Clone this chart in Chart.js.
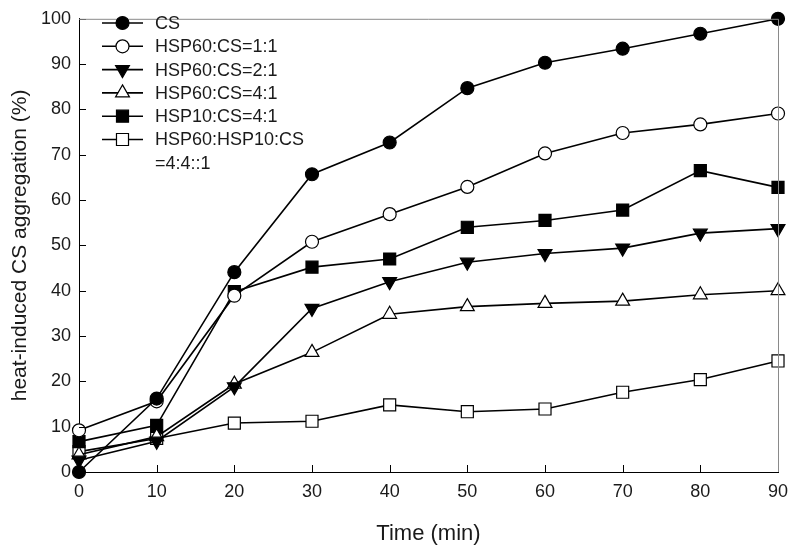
<!DOCTYPE html>
<html>
<head>
<meta charset="utf-8">
<script src="https://cdn.jsdelivr.net/npm/chart.js@4.4.1/dist/chart.umd.min.js"></script>
<style>
  html, body { margin: 0; padding: 0; background: #fff; }
  #wrap { width: 788px; height: 547px; }
</style>
</head>
<body>
<div id="wrap"><canvas id="chart" width="788" height="547"></canvas></div>
<script>
// heat-induced CS aggregation over time

const times = [0, 10, 20, 30, 40, 50, 60, 70, 80, 90];
const xTicks = [0, 10, 20, 30, 40, 50, 60, 70, 80, 90];
const yTicks = [0, 10, 20, 30, 40, 50, 60, 70, 80, 90, 100];

const csOnly   = [0, 16.2, 44.1, 65.7, 72.7, 84.7, 90.3, 93.4, 96.7, 100];
const hsp60_11 = [9.2, 15.6, 38.9, 50.8, 56.9, 62.9, 70.3, 74.8, 76.7, 79.1];
const hsp60_21 = [2.6, 6.8, 18.8, 36.1, 42.0, 46.3, 48.2, 49.4, 52.7, 53.7];
const hsp60_41 = [3.8, 7.8, 19.4, 26.4, 34.8, 36.5, 37.2, 37.7, 39.1, 40.0];
const hsp10_41 = [6.7, 10.3, 39.8, 45.2, 47.0, 54.0, 55.5, 57.8, 66.5, 62.8];
const hsp60_10 = [4.5, 7.4, 10.8, 11.2, 14.8, 13.3, 13.9, 17.6, 20.4, 24.5];

const FONT = '"Liberation Sans", Arial, sans-serif';
const TXT = '#1a1a1a';

function series(label, values, style, filled, radius, rotation) {
  return {
    label: label.join('\n'),
    legendLines: label,
    data: values.map((v, i) => ({ x: times[i], y: v })),
    borderColor: '#000',
    borderWidth: 1.6,
    pointStyle: style,
    pointRadius: radius,
    pointRotation: rotation || 0,
    pointBorderWidth: 1.2,
    pointBorderColor: '#000',
    pointBackgroundColor: filled ? '#000' : '#fff',
    tension: 0,
    clip: false
  };
}

// inward tick marks on both axes
const innerTicks = {
  id: 'innerTicks',
  afterDatasetsDraw(chart) {
    const { ctx, chartArea, scales } = chart;
    ctx.save();
    ctx.strokeStyle = '#000';
    ctx.lineWidth = 1;
    xTicks.forEach(t => {
      const px = Math.round(scales.x.getPixelForValue(t)) + 0.5;
      ctx.beginPath();
      ctx.moveTo(px, chartArea.bottom);
      ctx.lineTo(px, chartArea.bottom - 7);
      ctx.stroke();
    });
    yTicks.forEach(t => {
      const py = Math.round(scales.y.getPixelForValue(t)) + 0.5;
      ctx.beginPath();
      ctx.moveTo(chartArea.left, py);
      ctx.lineTo(chartArea.left + 7, py);
      ctx.stroke();
    });
    // grey top / right frame
    ctx.strokeStyle = '#8a8a8a';
    ctx.beginPath();
    ctx.moveTo(chartArea.left, chartArea.top + 0.5);
    ctx.lineTo(chartArea.right + 0.5, chartArea.top + 0.5);
    ctx.lineTo(chartArea.right + 0.5, chartArea.bottom);
    ctx.stroke();
    ctx.restore();
  }
};

// legend inside plot, line sample with marker
const sampleLegend = {
  id: 'sampleLegend',
  afterDraw(chart) {
    const ctx = chart.ctx;
    const x0 = 102, x1 = 143, tx = 155;
    let y = 23;
    ctx.save();
    ctx.font = '18px ' + FONT;
    ctx.textBaseline = 'middle';
    chart.data.datasets.forEach(ds => {
      ctx.strokeStyle = '#000';
      ctx.lineWidth = 1.6;
      ctx.beginPath();
      ctx.moveTo(x0, y);
      ctx.lineTo(x1, y);
      ctx.stroke();
      ctx.fillStyle = ds.pointBackgroundColor;
      ctx.strokeStyle = '#000';
      ctx.lineWidth = 1.2;
      Chart.helpers.drawPoint(ctx, {
        pointStyle: ds.pointStyle,
        radius: ds.pointRadius,
        rotation: ds.pointRotation,
        borderWidth: 1.2
      }, (x0 + x1) / 2, y);
      ctx.fillStyle = TXT;
      ds.legendLines.forEach((line, i) => {
        ctx.fillText(line, tx, y + 1 + i * 23.3);
      });
      y += 23.3 * ds.legendLines.length;
    });
    ctx.restore();
  }
};

new Chart(document.getElementById('chart'), {
  type: 'line',
  data: {
    datasets: [
      series(['CS'], csOnly, 'circle', true, 6.5),
      series(['HSP60:CS=1:1'], hsp60_11, 'circle', false, 6.5),
      series(['HSP60:CS=2:1'], hsp60_21, 'triangle', true, 8, 180),
      series(['HSP60:CS=4:1'], hsp60_41, 'triangle', false, 8),
      series(['HSP10:CS=4:1'], hsp10_41, 'rect', true, 8.5),
      series(['HSP60:HSP10:CS', '=4:4::1'], hsp60_10, 'rect', false, 8.5)
    ]
  },
  options: {
    responsive: false,
    animation: false,
    layout: { padding: { top: 7, right: 0, left: 0, bottom: 0 } },
    plugins: {
      legend: { display: false },
      tooltip: { enabled: false }
    },
    scales: {
      x: {
        type: 'linear',
        min: 0,
        max: 90,
        afterBuildTicks: s => { s.ticks = xTicks.map(v => ({ value: v })); },
        afterFit: s => { s.height = 75; s.paddingRight = 10; },
        grid: { drawOnChartArea: false, drawTicks: false },
        border: { display: true, color: '#000', width: 1 },
        ticks: { color: TXT, font: { family: FONT, size: 18 }, padding: 9, maxRotation: 0 },
        title: {
          display: true,
          text: 'Time (min)',
          color: TXT,
          font: { family: FONT, size: 22 },
          padding: { top: 0, bottom: 0 }
        }
      },
      y: {
        min: 0,
        max: 100,
        afterBuildTicks: s => { s.ticks = yTicks.map(v => ({ value: v })); },
        afterFit: s => { s.width = 79; },
        grid: { drawOnChartArea: false, drawTicks: false },
        border: { display: true, color: '#000', width: 1 },
        ticks: { color: TXT, font: { family: FONT, size: 18 }, padding: 8 },
        title: {
          display: true,
          text: 'heat-induced CS aggregation (%)',
          color: TXT,
          font: { family: FONT, size: 21 },
          padding: { top: 8, bottom: 0 }
        }
      }
    }
  },
  plugins: [innerTicks, sampleLegend]
});
</script>
</body>
</html>
